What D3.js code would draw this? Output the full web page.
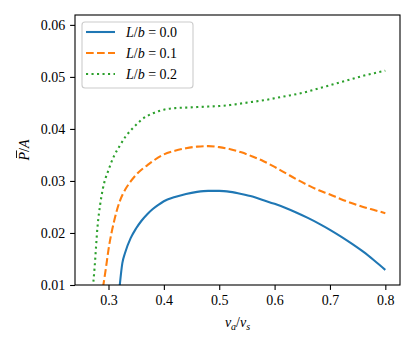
<!DOCTYPE html>
<html><head><meta charset="utf-8">
<script src="https://cdn.jsdelivr.net/npm/d3@7"></script>
<style>body{margin:0;background:#fff}svg{display:block}</style>
</head><body><svg id="c" width="415" height="345"></svg>
<script>
const xTicks=[0.3,0.4,0.5,0.6,0.7,0.8];
const yTicks=[0.01,0.02,0.03,0.04,0.05,0.06];
const seriesLabels=["0.0","0.1","0.2"];
const vBlue=[0.32,0.325,0.33,0.34,0.35,0.36,0.37,0.38,0.39,0.40,0.42,0.44,0.46,0.48,0.50,0.52,0.54,0.56,0.58,0.60,0.62,0.64,0.66,0.68,0.70,0.72,0.74,0.76,0.78,0.80];
const pBlue=[0.0096,0.0142,0.0162,0.0190,0.0209,0.0224,0.0236,0.0246,0.0254,0.0261,0.0269,0.0275,0.0279,0.0281,0.0281,0.0279,0.0275,0.0270,0.0263,0.0256,0.0248,0.0239,0.0229,0.0218,0.0206,0.0193,0.0179,0.0164,0.0147,0.0129];
const vOrange=[0.29,0.295,0.30,0.31,0.32,0.33,0.34,0.35,0.36,0.37,0.38,0.40,0.42,0.44,0.46,0.48,0.50,0.52,0.54,0.56,0.58,0.60,0.62,0.64,0.66,0.68,0.70,0.72,0.74,0.76,0.78,0.80];
const pOrange=[0.0095,0.0130,0.0168,0.0222,0.0260,0.0283,0.0299,0.0312,0.0322,0.0330,0.0338,0.0351,0.0358,0.0363,0.0366,0.0367,0.0365,0.0361,0.0355,0.0347,0.0338,0.0327,0.0315,0.0303,0.0292,0.0282,0.0274,0.0265,0.0257,0.0250,0.0244,0.0238];
const vGreen=[0.27,0.275,0.28,0.285,0.29,0.30,0.31,0.32,0.33,0.34,0.35,0.36,0.37,0.38,0.39,0.40,0.42,0.44,0.46,0.48,0.50,0.52,0.54,0.56,0.58,0.60,0.62,0.64,0.66,0.68,0.70,0.72,0.74,0.76,0.78,0.80];
const pGreen=[0.0075,0.0135,0.0210,0.0255,0.0286,0.0321,0.0348,0.0367,0.0384,0.0397,0.0408,0.0418,0.0425,0.0430,0.0434,0.0437,0.0440,0.0441,0.0442,0.0443,0.0444,0.0446,0.0449,0.0452,0.0455,0.0459,0.0463,0.0467,0.0472,0.0478,0.0484,0.0490,0.0496,0.0502,0.0507,0.0512];

const FONT="'Liberation Serif','Times New Roman',serif";
const colors=["#1f77b4","#ff7f0e","#2ca02c"];
const dashes=[null,"7.7,3.3","2.1,3.4"];
const series=[[vBlue,pBlue],[vOrange,pOrange],[vGreen,pGreen]].map(([v,p])=>v.map((x,i)=>[x,p[i]]));

const L=75,R=400,T=15,B=285;
const svg=d3.select("#c");
const x=d3.scaleLinear().domain([0.2395,0.8265]).range([L,R]);
const y=d3.scaleLinear().domain([0.01,0.0619]).range([B,T]);

svg.append("clipPath").attr("id","clip").append("rect").attr("x",L).attr("y",T).attr("width",R-L).attr("height",B-T);

const line=d3.line().x(d=>x(d[0])).y(d=>y(d[1])).curve(d3.curveMonotoneX);
const g=svg.append("g").attr("clip-path","url(#clip)");
series.forEach((s,i)=>{
  g.append("path").datum(s).attr("d",line).attr("fill","none").attr("stroke",colors[i])
   .attr("stroke-width",2.08).attr("stroke-dasharray",dashes[i]).attr("stroke-linejoin","round");
});

const xa=svg.append("g").attr("transform",`translate(0,${B})`).call(d3.axisBottom(x).tickValues(xTicks).tickFormat(d3.format(".1f")).tickSize(4.9).tickPadding(4.9));
const ya=svg.append("g").attr("transform",`translate(${L},0)`).call(d3.axisLeft(y).tickValues(yTicks).tickFormat(d3.format(".2f")).tickSize(4.9).tickPadding(4.9));
[xa,ya].forEach(a=>{a.select(".domain").remove();a.selectAll("line").attr("stroke","#000").attr("stroke-width",1.1);a.selectAll("text").style("font-size","14px").style("font-family",FONT).attr("fill","#000");});

svg.append("rect").attr("x",L).attr("y",T).attr("width",R-L).attr("height",B-T).attr("fill","none").attr("stroke","#000").attr("stroke-width",1.1);

// x label
const xl=svg.append("text").attr("x",(L+R)/2).attr("y",327).attr("text-anchor","middle").style("font-size","14px").style("font-family",FONT);
xl.append("tspan").attr("font-style","italic").text("v");
xl.append("tspan").attr("font-style","italic").style("font-size","10px").attr("dy",2.5).text("a");
xl.append("tspan").attr("dy",-2.5).text("/");
xl.append("tspan").attr("font-style","italic").text("v");
xl.append("tspan").attr("font-style","italic").style("font-size","10px").attr("dy",2.5).text("s");

// y label
const yg=svg.append("g").attr("transform",`translate(29,${(T+B)/2}) rotate(-90)`);
const yl=yg.append("text").attr("text-anchor","middle").style("font-size","14px").style("font-family",FONT);
const pT=yl.append("tspan").attr("font-style","italic").text("P");
yl.append("tspan").text("/");
yl.append("tspan").attr("font-style","italic").text("A");
const tot=yl.node().getComputedTextLength();
const pl=pT.node().getComputedTextLength();
const st=-tot/2;
yg.append("line").attr("x1",st+2.5).attr("x2",st+pl+1.5).attr("y1",-12.5).attr("y2",-12.5).attr("stroke","#000").attr("stroke-width",0.9);

// legend
const lg=svg.append("g");
lg.append("rect").attr("x",82).attr("y",22).attr("width",111).attr("height",66).attr("rx",3).attr("fill","#fff").attr("fill-opacity",0.8).attr("stroke","#ccc").attr("stroke-width",1.1);
seriesLabels.forEach((lab,i)=>{
  const yy=32+i*21;
  lg.append("line").attr("x1",86).attr("x2",115).attr("y1",yy).attr("y2",yy).attr("stroke",colors[i]).attr("stroke-width",2.08).attr("stroke-dasharray",dashes[i]);
  const t=lg.append("text").attr("x",126).attr("y",yy+5).style("font-size","14px").style("font-family",FONT);
  t.append("tspan").attr("font-style","italic").text("L");
  t.append("tspan").text("/");
  t.append("tspan").attr("font-style","italic").text("b");
  t.append("tspan").text(" = "+lab);
});
</script></body></html>
